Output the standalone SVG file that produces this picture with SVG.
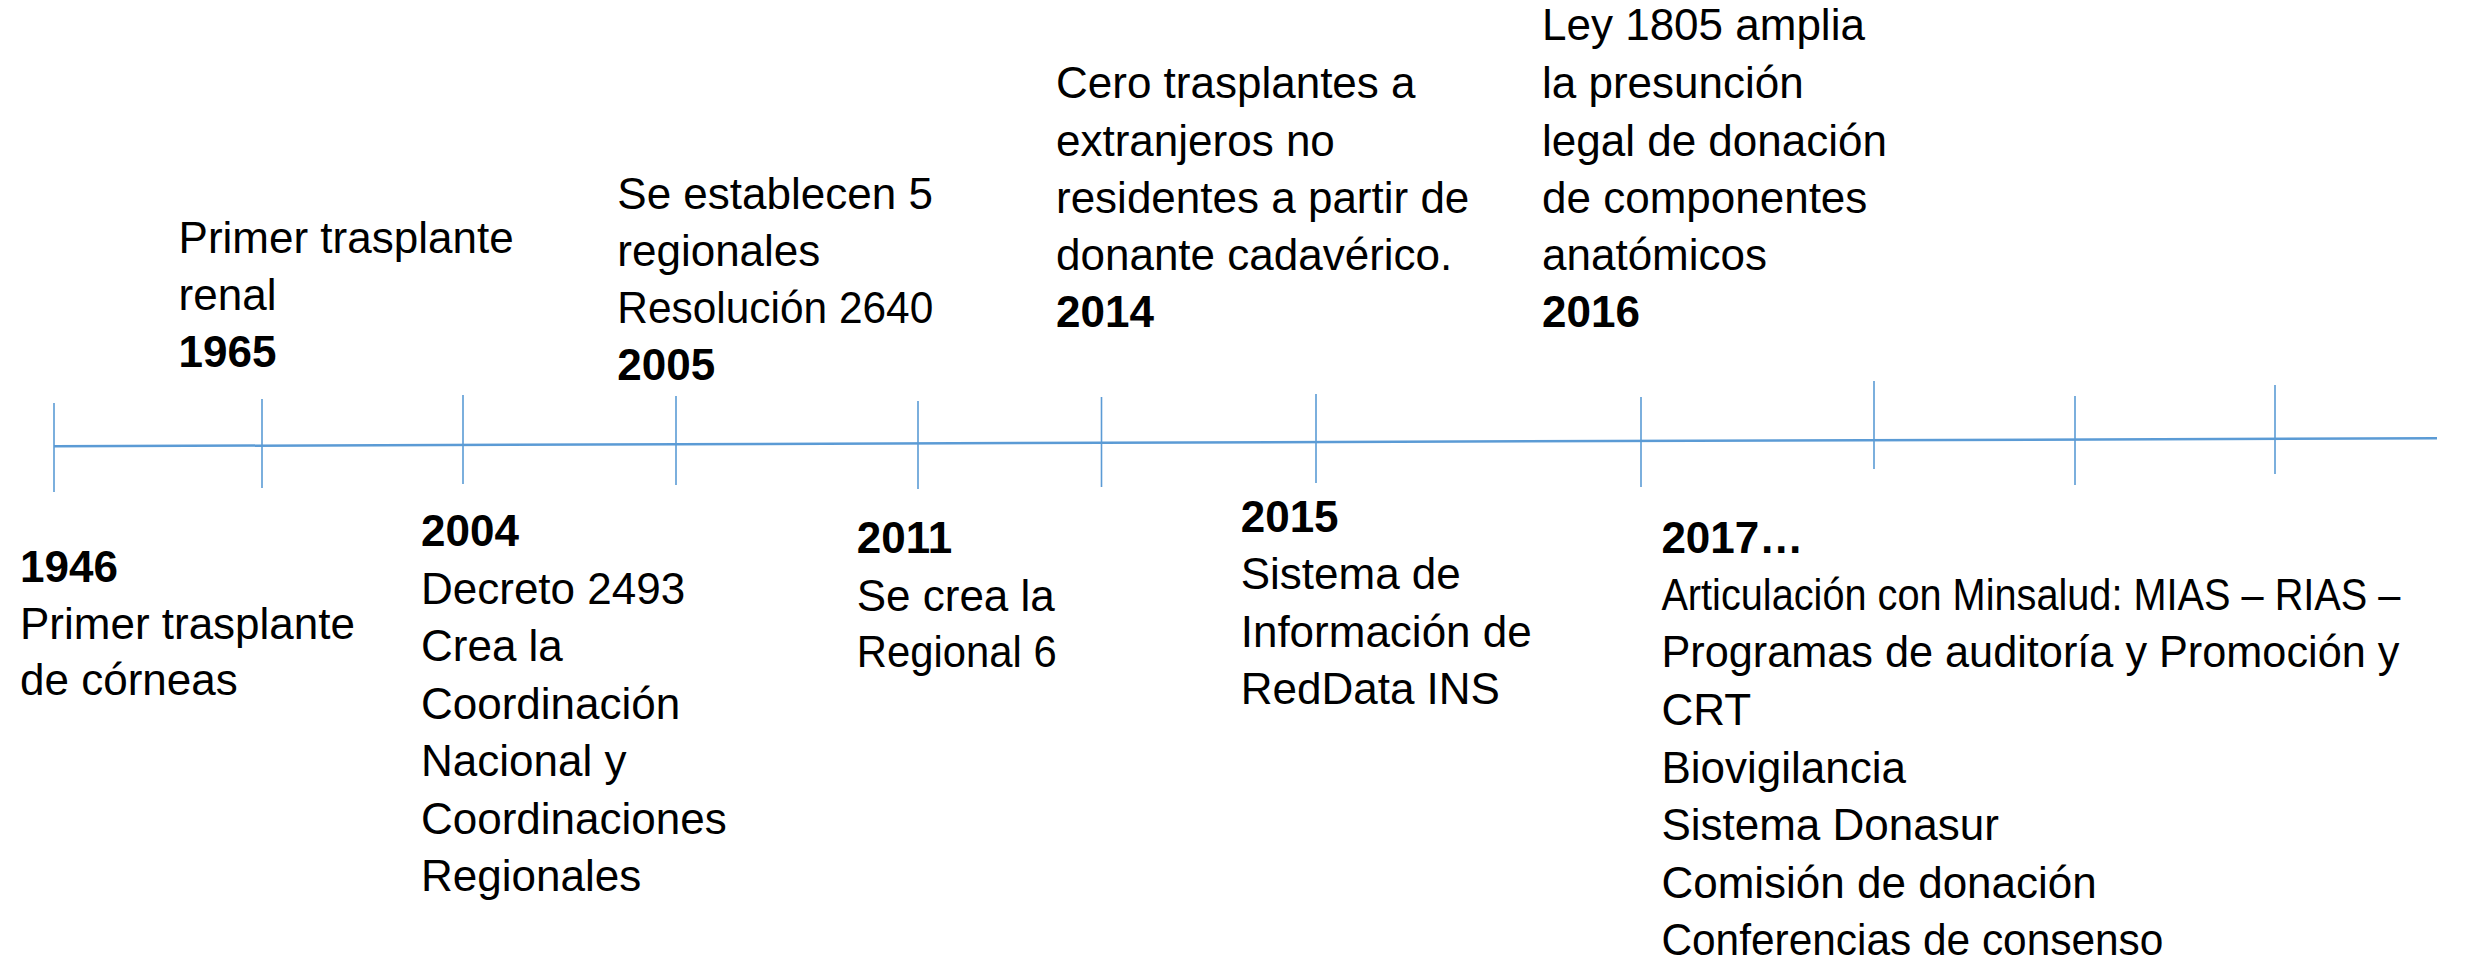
<svg xmlns="http://www.w3.org/2000/svg" width="2491" height="960" viewBox="0 0 2491 960">
<style>
  text { font-family: "Liberation Sans", Arial, sans-serif; font-size: 44px; fill: #000; }
  .y { font-weight: bold; }
  .axis { stroke: #5B9BD5; stroke-width: 2.5; fill: none; }
  .tick { stroke: #5B9BD5; stroke-width: 1.6; fill: none; }
</style>
<rect width="2491" height="960" fill="#fff"/>
<g id="connectors">
  <line class="axis" x1="54" y1="446.3" x2="2437" y2="438.3"/>
  <line class="tick" x1="54" y1="403" x2="54" y2="492"/>
  <line class="tick" x1="262" y1="399" x2="262" y2="488"/>
  <line class="tick" x1="463" y1="395" x2="463" y2="484"/>
  <line class="tick" x1="676" y1="396" x2="676" y2="485"/>
  <line class="tick" x1="918" y1="401" x2="918" y2="489"/>
  <line class="tick" x1="1101.5" y1="397" x2="1101.5" y2="487"/>
  <line class="tick" x1="1316" y1="394" x2="1316" y2="483"/>
  <line class="tick" x1="1641" y1="397" x2="1641" y2="487"/>
  <line class="tick" x1="1874" y1="381" x2="1874" y2="469"/>
  <line class="tick" x1="2075" y1="396" x2="2075" y2="485"/>
  <line class="tick" x1="2275" y1="385" x2="2275" y2="474"/>
</g>
<g id="e1946">
  <text class="y" x="20" y="582">1946</text>
  <text x="20" y="638.5">Primer trasplante</text>
  <text x="20" y="695">de córneas</text>
</g>
<g id="e1965">
  <text x="178.6" y="253.3">Primer trasplante</text>
  <text x="178.6" y="310">renal</text>
  <text class="y" x="178.6" y="366.7">1965</text>
</g>
<g id="e2004">
  <text class="y" x="421" y="546">2004</text>
  <text x="421" y="603.5">Decreto 2493</text>
  <text x="421" y="661">Crea la</text>
  <text x="421" y="718.5">Coordinación</text>
  <text x="421" y="776">Nacional y</text>
  <text x="421" y="833.5">Coordinaciones</text>
  <text x="421" y="891">Regionales</text>
</g>
<g id="e2005">
  <text x="617.3" y="209">Se establecen 5</text>
  <text x="617.3" y="266">regionales</text>
  <text x="617.3" y="323" textLength="316" lengthAdjust="spacingAndGlyphs">Resolución 2640</text>
  <text class="y" x="617.3" y="380">2005</text>
</g>
<g id="e2011">
  <text class="y" x="856.7" y="553.3">2011</text>
  <text x="856.7" y="611">Se crea la</text>
  <text x="856.7" y="667" textLength="200" lengthAdjust="spacingAndGlyphs">Regional 6</text>
</g>
<g id="e2014">
  <text x="1056" y="98">Cero trasplantes a</text>
  <text x="1056" y="155.5">extranjeros no</text>
  <text x="1056" y="212.5">residentes a partir de</text>
  <text x="1056" y="269.5">donante cadavérico.</text>
  <text class="y" x="1056" y="326.5">2014</text>
</g>
<g id="e2015">
  <text class="y" x="1240.7" y="531.7">2015</text>
  <text x="1240.7" y="589.3">Sistema de</text>
  <text x="1240.7" y="646.7">Información de</text>
  <text x="1240.7" y="704">RedData INS</text>
</g>
<g id="e2016">
  <text x="1542" y="40">Ley 1805 amplia</text>
  <text x="1542" y="98">la presunción</text>
  <text x="1542" y="155.5">legal de donación</text>
  <text x="1542" y="212.5">de componentes</text>
  <text x="1542" y="269.5">anatómicos</text>
  <text class="y" x="1542" y="326.5">2016</text>
</g>
<g id="e2017">
  <text class="y" x="1661.4" y="552.7">2017…</text>
  <text x="1661.4" y="610" textLength="739" lengthAdjust="spacingAndGlyphs">Articulación con Minsalud: MIAS – RIAS –</text>
  <text x="1661.4" y="667.3" textLength="738" lengthAdjust="spacingAndGlyphs">Programas de auditoría y Promoción y</text>
  <text x="1661.4" y="725">CRT</text>
  <text x="1661.4" y="782.7">Biovigilancia</text>
  <text x="1661.4" y="840">Sistema Donasur</text>
  <text x="1661.4" y="898.3">Comisión de donación</text>
  <text x="1661.4" y="955" textLength="502" lengthAdjust="spacingAndGlyphs">Conferencias de consenso</text>
</g>
</svg>
